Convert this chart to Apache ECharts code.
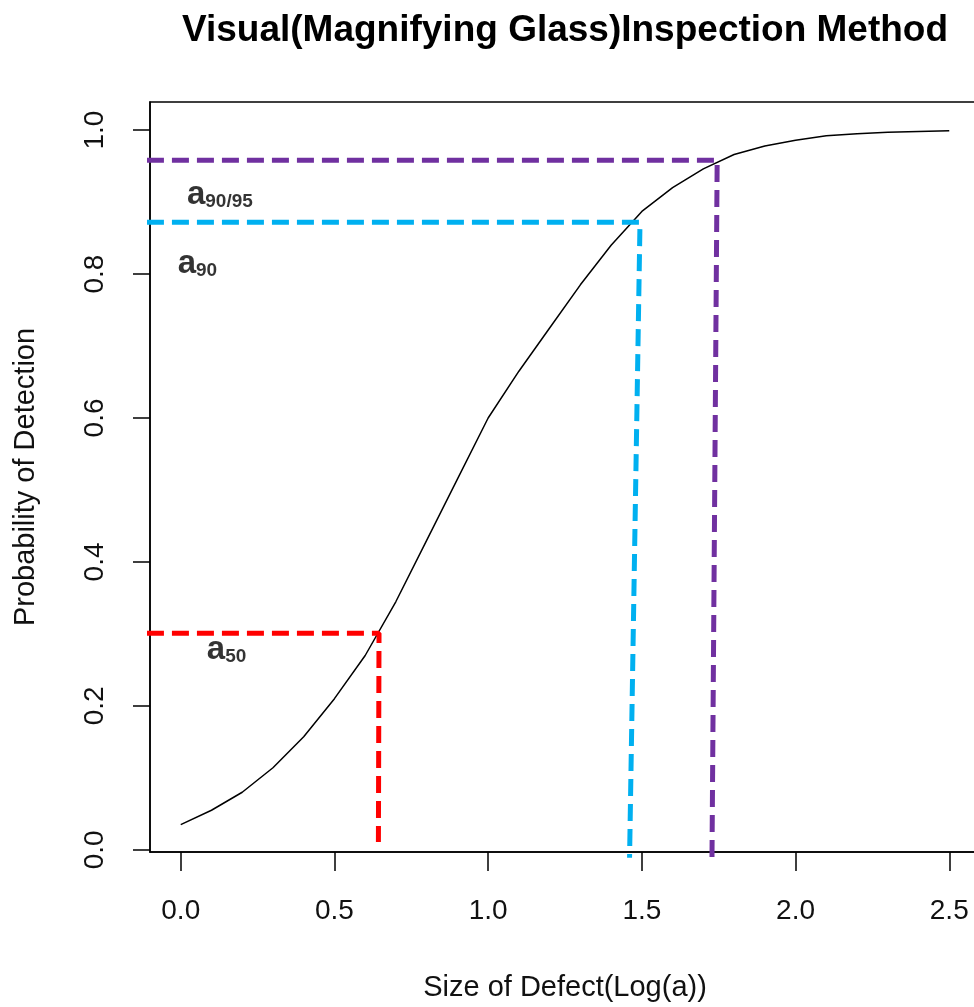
<!doctype html>
<html>
<head>
<meta charset="UTF-8">
<title>Visual Inspection POD</title>
<script src="https://cdn.jsdelivr.net/npm/echarts@6/dist/echarts.min.js"></script>
<style>
  html, body { margin: 0; padding: 0; background: #fff; }
  #chart { width: 974px; height: 1007px; }
</style>
</head>
<body>
<div id="chart"></div>
<script>
// POD curve
const sizeX = [0.0, 0.1, 0.2, 0.3, 0.4, 0.5, 0.6, 0.7, 0.8, 0.9, 1.0, 1.1, 1.2,
               1.3, 1.4, 1.5, 1.6, 1.7, 1.8, 1.9, 2.0, 2.1, 2.2, 2.3, 2.4, 2.5];
const podY = [0.035, 0.055, 0.080, 0.114, 0.157, 0.210, 0.270, 0.345, 0.430, 0.515, 0.600, 0.665, 0.725,
              0.785, 0.840, 0.887, 0.920, 0.946, 0.966, 0.978, 0.986, 0.992, 0.995, 0.997, 0.998, 0.999];

// dashed guide lines (x, y)
const a50Line = [[-0.11, 0.301], [0.645, 0.301], [0.643, 0.011]];
const a90Line = [[-0.11, 0.872], [1.494, 0.872], [1.460, -0.011]];
const a9095Line = [[-0.11, 0.958], [1.745, 0.958], [1.728, -0.019]];

// annotation positions and texts
const labelPos = [[0.02, 0.91], [-0.01, 0.814], [0.085, 0.278]];
const labelSub = ['90/95', '90', '50'];

const xTicks = [0.0, 0.5, 1.0, 1.5, 2.0, 2.5];
const yTicks = [0.0, 0.2, 0.4, 0.6, 0.8, 1.0];

const font = 'Liberation Sans, Arial, sans-serif';
const chart = echarts.init(document.getElementById('chart'));

function guide(data, color) {
  return {
    type: 'line',
    data: data,
    clip: false,
    showSymbol: false,
    symbol: 'none',
    silent: true,
    lineStyle: { color: color, width: 5, type: [17, 8] }
  };
}

chart.setOption({
  animation: false,
  title: {
    text: 'Visual(Magnifying Glass)Inspection Method',
    left: 560,
    top: 7,
    textAlign: 'center',
    textStyle: { fontFamily: font, fontSize: 37, fontWeight: 'bold', color: '#000' }
  },
  grid: {
    left: 150, top: 102, width: 830, height: 750,
    outerBoundsMode: 'none',
    containLabel: false,
    show: true, borderColor: '#000', borderWidth: 1.5, backgroundColor: '#fff'
  },
  xAxis: {
    type: 'value',
    min: -0.1, max: 2.6,
    name: 'Size of Defect(Log(a))',
    nameLocation: 'middle',
    nameGap: 121,
    nameTextStyle: { fontFamily: font, fontSize: 29, color: '#111' },
    axisLine: { show: true, onZero: false, lineStyle: { color: '#000', width: 1.5 } },
    axisTick: { show: true, length: 19, customValues: xTicks, lineStyle: { color: '#000', width: 1.5 } },
    axisLabel: {
      customValues: xTicks, margin: 45,
      fontFamily: font, fontSize: 28, color: '#111',
      formatter: v => v.toFixed(1)
    },
    splitLine: { show: false }
  },
  yAxis: {
    type: 'value',
    min: -0.003, max: 1.039,
    name: 'Probability of Detection',
    nameLocation: 'middle',
    nameGap: 110,
    nameRotate: 90,
    nameTextStyle: { fontFamily: font, fontSize: 29, color: '#111' },
    axisLine: { show: true, onZero: false, lineStyle: { color: '#000', width: 1.5 } },
    axisTick: { show: true, length: 17, customValues: yTicks, lineStyle: { color: '#000', width: 1.5 } },
    axisLabel: {
      customValues: yTicks, margin: 41, rotate: 90,
      fontFamily: font, fontSize: 28, color: '#111',
      formatter: v => v.toFixed(1)
    },
    splitLine: { show: false }
  },
  series: [
    {
      type: 'line',
      data: sizeX.map((x, i) => [x, podY[i]]),
      showSymbol: false,
      symbol: 'none',
      lineStyle: { color: '#000', width: 1.5 }
    },
    guide(a9095Line, '#7030A0'),
    guide(a90Line, '#00B0F0'),
    guide(a50Line, '#FF0000'),
    {
      type: 'scatter',
      symbolSize: 0,
      silent: true,
      data: labelPos.map((p, i) => ({ value: p, sub: labelSub[i] })),
      label: {
        show: true,
        position: 'right',
        distance: 0,
        color: '#000',
        formatter: p => '{a|a}{s|' + p.data.sub + '}',
        rich: {
          a: { fontFamily: font, fontSize: 33, fontWeight: 'bold', color: '#000' },
          s: { fontFamily: font, fontSize: 19, fontWeight: 'bold', color: '#000', verticalAlign: 'bottom' }
        }
      }
    }
  ]
});
</script>
</body>
</html>
